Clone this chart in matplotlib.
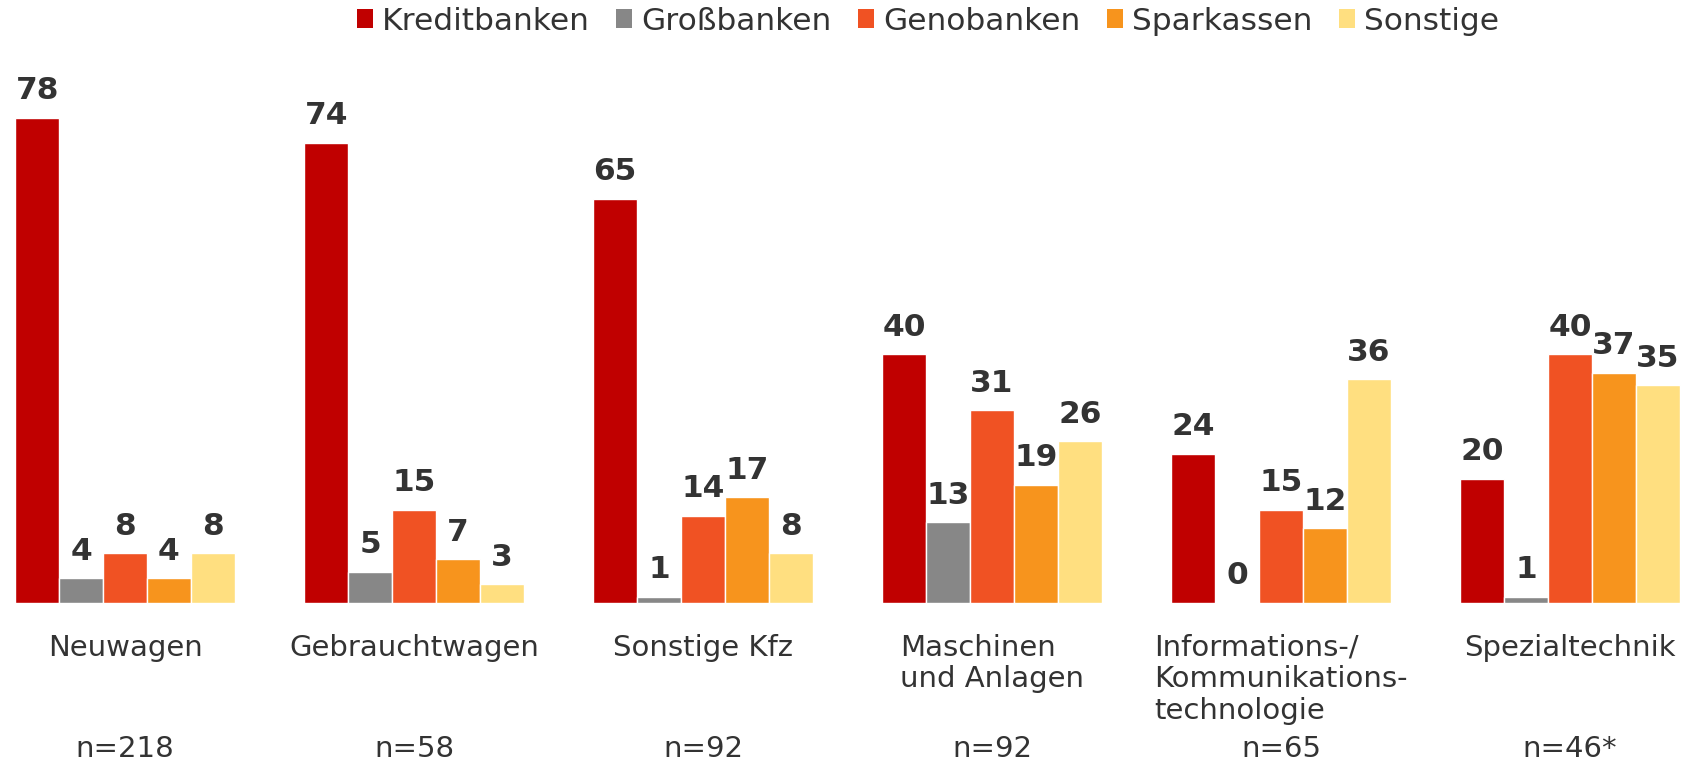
import matplotlib
matplotlib.use("Agg")
import matplotlib.pyplot as plt
from matplotlib.patches import Patch
import numpy as np

categories = ["Neuwagen", "Gebrauchtwagen", "Sonstige Kfz", "Maschinen\nund Anlagen",
              "Informations-/\nKommunikations-\ntechnologie", "Spezialtechnik"]
n_labels = ["n=218", "n=58", "n=92", "n=92", "n=65", "n=46*"]
series = ["Kreditbanken", "Großbanken", "Genobanken", "Sparkassen", "Sonstige"]
kreditbanken = [78, 74, 65, 40, 24, 20]
grossbanken = [4, 5, 1, 13, 0, 1]
genobanken = [8, 15, 14, 31, 15, 40]
sparkassen = [4, 7, 17, 19, 12, 37]
sonstige = [8, 3, 8, 26, 36, 35]
values = [kreditbanken, grossbanken, genobanken, sparkassen, sonstige]
colors = ["#C00000", "#878787", "#F05223", "#F7941D", "#FFDF80"]

W, H = 1697, 765
fig = plt.figure(figsize=(W / 100, H / 100), dpi=100)
base_px = 603
ax = fig.add_axes([0, (H - base_px) / H, 1, base_px / H])
grp_px = 289
x0_px = 125
ax.set_xlim(-x0_px / grp_px, (W - x0_px) / grp_px)
ax.set_ylim(0, base_px / 6.22)
ax.axis("off")

x = np.arange(len(categories))
step = 0.152
for i, (vals, col, name) in enumerate(zip(values, colors, series)):
    bars = ax.bar(x + (i - 2) * step, vals, width=step, color=col,
                  edgecolor="white", linewidth=1, label=name)
    ax.bar_label(bars, labels=[str(v) for v in vals], padding=9,
                 fontsize=22.5, fontweight="bold", color="#333333")

txt = "#333333"
for xi, cat, nl in zip(x, categories, n_labels):
    ax.text(xi, -(634 - base_px) / 6.22, cat, ha="center", va="top",
            multialignment="left", fontsize=21, color=txt, linespacing=1.15)
    ax.text(xi, -(749 - base_px) / 6.22, nl, ha="center", va="center",
            fontsize=21, color=txt)

handles = [Patch(facecolor=c, edgecolor="none") for c in colors]
fig.legend(handles, series, loc="center", bbox_to_anchor=(928 / W, 1 - 21 / H),
           ncol=5, frameon=False, fontsize=22.5, handlelength=0.5, handleheight=0.55,
           handletextpad=0.3, columnspacing=0.85, labelcolor=txt)

fig.savefig("out.png", dpi=100)
